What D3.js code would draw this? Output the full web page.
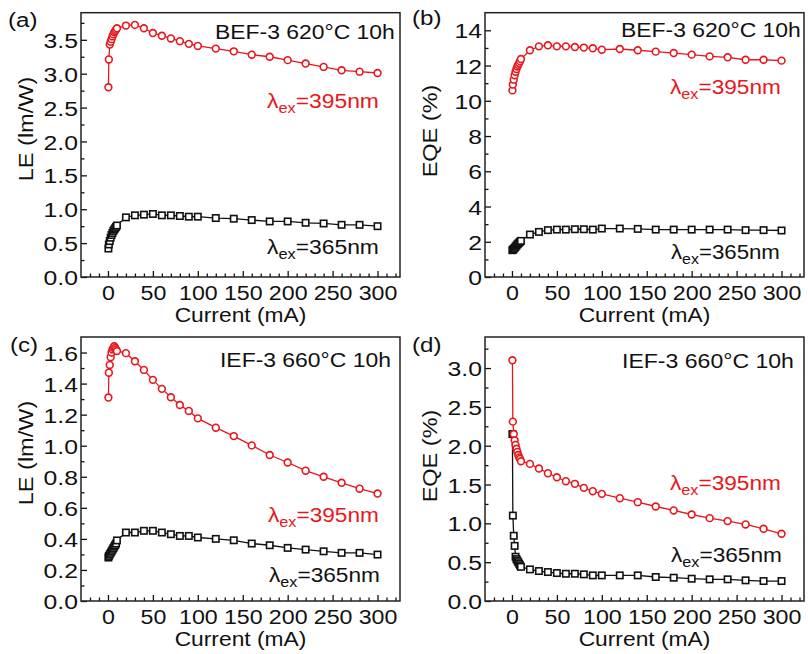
<!DOCTYPE html>
<html>
<head>
<meta charset="utf-8">
<script src="https://cdn.jsdelivr.net/npm/d3@7/dist/d3.min.js"></script>
<style>
  html, body { margin: 0; padding: 0; background: #fff; }
  svg { display: block; }
  text { font-family: "Liberation Sans", Arial, sans-serif; }
</style>
</head>
<body>
<svg id="chart" width="808" height="654"></svg>
<script>
// Drive current (mA) shared by every measured series
const current = [0.5, 1, 2, 3, 4, 5, 6, 7, 8, 9, 10,
  20, 30, 40, 50, 60, 70, 80, 90, 100,
  120, 140, 160, 180, 200, 220, 240, 260, 280, 300];

// (a) BEF-3 620°C 10h, luminous efficacy (lm/W)
const leBef395 = [2.80, 3.21, 3.43, 3.47, 3.51, 3.55, 3.58, 3.61, 3.63, 3.65, 3.67,
  3.71, 3.72, 3.67, 3.60, 3.56, 3.52, 3.48, 3.44, 3.41,
  3.37, 3.33, 3.28, 3.25, 3.20, 3.15, 3.10, 3.05, 3.03, 3.01];
const leBef365 = [0.42, 0.48, 0.53, 0.58, 0.62, 0.65, 0.68, 0.70, 0.72, 0.74, 0.76,
  0.88, 0.91, 0.92, 0.93, 0.91, 0.91, 0.90, 0.89, 0.89,
  0.87, 0.86, 0.84, 0.82, 0.82, 0.80, 0.79, 0.77, 0.77, 0.75];

// (b) BEF-3 620°C 10h, external quantum efficiency (%)
const eqeBef395 = [10.59, 10.92, 11.20, 11.45, 11.65, 11.80, 11.95, 12.05, 12.15, 12.25, 12.37,
  12.87, 13.09, 13.15, 13.09, 13.09, 13.05, 13.02, 12.98, 12.90,
  12.94, 12.87, 12.79, 12.71, 12.62, 12.52, 12.47, 12.33, 12.33, 12.28];
const eqeBef365 = [1.52, 1.55, 1.60, 1.65, 1.72, 1.78, 1.85, 1.90, 1.95, 2.00, 2.05,
  2.41, 2.56, 2.66, 2.69, 2.69, 2.71, 2.71, 2.69, 2.75,
  2.75, 2.73, 2.69, 2.69, 2.69, 2.69, 2.69, 2.66, 2.66, 2.64];

// (c) IEF-3 660°C 10h, luminous efficacy (lm/W)
const leIef395 = [1.31, 1.47, 1.52, 1.57, 1.60, 1.62, 1.63, 1.64, 1.63, 1.62, 1.61,
  1.596, 1.544, 1.488, 1.424, 1.366, 1.312, 1.262, 1.224, 1.176,
  1.116, 1.062, 1.002, 0.940, 0.892, 0.839, 0.800, 0.761, 0.723, 0.692];
const leIef365 = [0.28, 0.29, 0.30, 0.31, 0.32, 0.33, 0.34, 0.35, 0.36, 0.37, 0.39,
  0.441, 0.441, 0.452, 0.452, 0.441, 0.430, 0.419, 0.419, 0.409,
  0.400, 0.391, 0.370, 0.359, 0.342, 0.331, 0.320, 0.310, 0.310, 0.299];

// (d) IEF-3 660°C 10h, external quantum efficiency (%)
const eqeIef395 = [3.10, 2.31, 2.15, 2.07, 2.01, 1.96, 1.92, 1.88, 1.85, 1.83, 1.80,
  1.766, 1.706, 1.646, 1.594, 1.543, 1.509, 1.457, 1.414, 1.380,
  1.324, 1.273, 1.217, 1.166, 1.114, 1.067, 1.029, 0.986, 0.930, 0.866];
const eqeIef365 = [2.15, 1.10, 0.84, 0.71, 0.57, 0.54, 0.52, 0.50, 0.48, 0.46, 0.44,
  0.407, 0.386, 0.373, 0.360, 0.351, 0.351, 0.343, 0.330, 0.330,
  0.330, 0.330, 0.309, 0.300, 0.287, 0.279, 0.279, 0.266, 0.257, 0.257];

// Text content
const panelLetters = ["(a)", "(b)", "(c)", "(d)"];
const panelTitles = ["BEF-3 620°C 10h", "BEF-3 620°C 10h", "IEF-3 660°C 10h", "IEF-3 660°C 10h"];
const yTitles = ["LE (lm/W)", "EQE (%)", "LE (lm/W)", "EQE (%)"];
const xTitle = "Current (mA)";
const excitations = ["395", "365"];
const xTickValues = [0, 50, 100, 150, 200, 250, 300];

const RED = "#e8161c";
const INK = "#111";

const svg = d3.select("#chart");
svg.append("rect").attr("width", 808).attr("height", 654).attr("fill", "#fff");

// Horizontally stretch a text element about its anchor x
function stretch(sel, sx, ax) {
  sel.attr("transform", `translate(${ax},0) scale(${sx},1) translate(${-ax},0)`);
}
// Stretch a start-anchored text so it spans a given width
function fitWidth(sel, w) {
  const bb = sel.node().getBBox();
  stretch(sel, w / bb.width, bb.x);
}

const panels = [
  { frame: [81, 400, 12.7, 277], yDomain: [0, 3.9], yMajor: 0.5, fmt: ".1f",
    s395: leBef395, s365: leBef365,
    letter: [8, 27], title: [215, 39.5, 180],
    lab395: [267, 108.5, 112], lab365: [267, 254, 112], yTitle: [33, 129] },
  { frame: [485, 804, 12.7, 277], yDomain: [0, 15], yMajor: 2, fmt: "d",
    s395: eqeBef395, s365: eqeBef365,
    letter: [412, 25], title: [621, 37.5, 180],
    lab395: [670, 94.5, 111], lab365: [671, 259, 109], yTitle: [437, 131] },
  { frame: [81, 400, 337, 601], yDomain: [0, 1.7], yMajor: 0.2, fmt: ".1f",
    s395: leIef395, s365: leIef365,
    letter: [10, 352], title: [220, 367.5, 171],
    lab395: [268, 522, 111], lab365: [269, 582.5, 111], yTitle: [33, 453] },
  { frame: [485, 804, 337, 601], yDomain: [0, 3.4], yMajor: 0.5, fmt: ".1f",
    s395: eqeIef395, s365: eqeIef365,
    letter: [412, 352], title: [622, 368.5, 172],
    lab395: [670, 490.5, 111], lab365: [671, 562, 111], yTitle: [437, 456] }
];

panels.forEach((p, i) => {
  const [x0, x1, y0, y1] = p.frame;
  const x = d3.scaleLinear().domain([-30, 325]).range([x0, x1]);
  const y = d3.scaleLinear().domain(p.yDomain).range([y1, y0]);
  const g = svg.append("g");

  // x ticks: minor every 10 mA, major every 50 mA, pointing inward
  const xMinor = d3.range(-20, 325, 10).filter(v => v % 50 !== 0);
  g.append("g").attr("transform", `translate(0,${y1})`)
    .call(d3.axisBottom(x).tickValues(xMinor).tickSize(-3.5).tickFormat(""))
    .call(s => s.select(".domain").remove())
    .call(s => s.selectAll("line").attr("stroke", INK).attr("stroke-width", 1.3));
  const xAx = g.append("g").attr("transform", `translate(0,${y1})`)
    .call(d3.axisBottom(x).tickValues(xTickValues).tickSize(-6)
      .tickFormat(d3.format("d")))
    .call(s => s.select(".domain").remove())
    .call(s => s.selectAll("line").attr("stroke", INK).attr("stroke-width", 1.3));
  xAx.selectAll("text").attr("fill", INK).attr("font-size", 20)
    .attr("y", 23.5).attr("dy", 0)
    .attr("transform", "scale(1.16,1)");

  // y ticks: labelled majors and one minor between each pair
  const [ya, yb] = p.yDomain;
  const eps = 1e-9;
  const yMajors = d3.range(ya, yb + eps, p.yMajor).map(v => +v.toFixed(6));
  const yMinors = d3.range(ya + p.yMajor / 2, yb + eps, p.yMajor).map(v => +v.toFixed(6))
    .filter(v => v < yb - eps);
  g.append("g").attr("transform", `translate(${x0},0)`)
    .call(d3.axisLeft(y).tickValues(yMinors).tickSize(-3.5).tickFormat(""))
    .call(s => s.select(".domain").remove())
    .call(s => s.selectAll("line").attr("stroke", INK).attr("stroke-width", 1.3));
  const yAx = g.append("g").attr("transform", `translate(${x0},0)`)
    .call(d3.axisLeft(y).tickValues(yMajors).tickSize(-6).tickFormat(d3.format(p.fmt)))
    .call(s => s.select(".domain").remove())
    .call(s => s.selectAll("line").attr("stroke", INK).attr("stroke-width", 1.3));
  yAx.selectAll("text").attr("fill", INK).attr("font-size", 21)
    .attr("x", -3 / 1.18).attr("dy", "0.36em")
    .attr("transform", "scale(1.18,1)");

  // frame
  g.append("rect").attr("x", x0).attr("y", y0)
    .attr("width", x1 - x0).attr("height", y1 - y0)
    .attr("fill", "none").attr("stroke", "#222").attr("stroke-width", 1.5);

  // series
  const series = [
    { vals: p.s365, color: INK, shape: "square" },
    { vals: p.s395, color: RED, shape: "circle" }
  ];
  const line = d3.line().x(d => x(d[0])).y(d => y(d[1]));
  series.forEach(s => {
    const pts = current.map((c, k) => [c, s.vals[k]]);
    g.append("path").datum(pts).attr("d", line)
      .attr("fill", "none").attr("stroke", s.color).attr("stroke-width", 1.3);
    if (s.shape === "circle") {
      g.selectAll(null).data(pts).enter().append("circle")
        .attr("cx", d => x(d[0])).attr("cy", d => y(d[1])).attr("r", 3.4)
        .attr("fill", "#fff").attr("stroke", s.color).attr("stroke-width", 1.6);
    } else {
      g.selectAll(null).data(pts).enter().append("rect")
        .attr("x", d => x(d[0]) - 3.2).attr("y", d => y(d[1]) - 3.2)
        .attr("width", 6.4).attr("height", 6.4)
        .attr("fill", "#fff").attr("stroke", s.color).attr("stroke-width", 1.6);
    }
  });

  // axis titles
  const xt = g.append("text").attr("x", (x0 + x1) / 2).attr("y", y1 + 45.5)
    .attr("text-anchor", "middle").attr("font-size", 20).attr("fill", INK).text(xTitle);
  stretch(xt, 1.14, (x0 + x1) / 2);
  g.append("text")
    .attr("transform", `translate(${p.yTitle[0]},${p.yTitle[1]}) rotate(-90) scale(1.12,1)`)
    .attr("text-anchor", "middle").attr("font-size", 21).attr("fill", INK).text(yTitles[i]);

  // panel letter and sample title
  const lt = g.append("text").attr("x", p.letter[0]).attr("y", p.letter[1])
    .attr("font-size", 21).attr("fill", INK).text(panelLetters[i]);
  stretch(lt, 1.15, p.letter[0]);
  const tt = g.append("text").attr("x", p.title[0]).attr("y", p.title[1])
    .attr("font-size", 21).attr("fill", INK).text(panelTitles[i]);
  fitWidth(tt, p.title[2]);

  // excitation wavelength labels
  [[p.lab395, RED, excitations[0]], [p.lab365, INK, excitations[1]]].forEach(([pos, col, nm]) => {
    const t = g.append("text").attr("x", pos[0]).attr("y", pos[1])
      .attr("font-size", 21).attr("fill", col);
    t.append("tspan").text("λ");
    t.append("tspan").attr("font-size", 15).attr("dy", 5).text("ex");
    t.append("tspan").attr("dy", -5).text("=" + nm + "nm");
    fitWidth(t, pos[2]);
  });
});
</script>
</body>
</html>
